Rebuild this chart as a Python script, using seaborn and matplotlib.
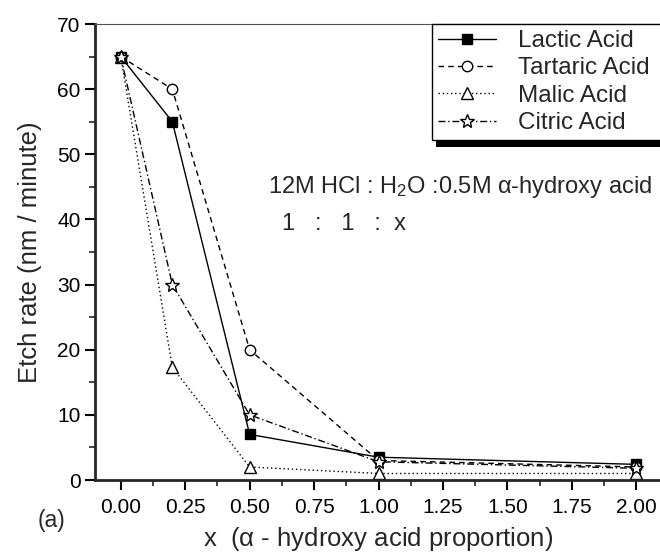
import matplotlib
matplotlib.use('Agg')
import matplotlib.pyplot as plt
import seaborn as sns
import numpy as np
from matplotlib.patches import Rectangle
from matplotlib.ticker import MultipleLocator, FormatStrFormatter

# datos
x_prop = [0.0, 0.2, 0.5, 1.0, 2.0]
lactic = [65, 55, 7, 3.5, 2.4]
tartaric = [65, 60, 20, 3.0, 2.0]
malic = [65, 17.3, 2, 1.0, 1.0]
citric = [65, 30, 10, 2.8, 1.8]
labels = ['Lactic Acid', 'Tartaric Acid', 'Malic Acid', 'Citric Acid']

sns.set_style('ticks')
plt.rcParams['font.family'] = ['Liberation Sans', 'DejaVu Sans']
plt.rcParams['mathtext.fontset'] = 'custom'
plt.rcParams['mathtext.rm'] = 'Liberation Sans'
plt.rcParams['mathtext.it'] = 'Liberation Sans'

fig = plt.figure(figsize=(6.6, 5.57), dpi=100)
ax = fig.add_axes([95/660, 1 - 480/557, 567/660, 456/557])

series = [lactic, tartaric, malic, citric]
styles = [
    dict(marker='s', linestyle='-', markerfacecolor='k', markersize=7),
    dict(marker='o', linestyle=(0, (4, 3)), markerfacecolor='white', markersize=7.5),
    dict(marker='^', linestyle=(0, (1, 2)), markerfacecolor='white', markersize=8),
    dict(marker='*', linestyle=(0, (5, 2, 1, 2)), markerfacecolor='white', markersize=10),
]
handles = []
for vals, st, lab in zip(series, styles, labels):
    sns.lineplot(x=x_prop, y=vals, ax=ax, color='k', linewidth=1.0,
                 markeredgecolor='k', markeredgewidth=1.0, **st)
    handles.append(ax.lines[-1])

ax.set_xlim(-0.1, 2.1)
ax.set_ylim(0, 70)
ax.xaxis.set_major_locator(MultipleLocator(0.25))
ax.xaxis.set_minor_locator(MultipleLocator(0.125))
ax.xaxis.set_major_formatter(FormatStrFormatter('%.2f'))
ax.yaxis.set_major_locator(MultipleLocator(10))
ax.yaxis.set_minor_locator(MultipleLocator(5))
ax.tick_params(which='major', direction='out', length=7, width=1.5, labelsize=15, colors='k')
ax.tick_params(which='minor', direction='out', length=4, width=1.2)
ax.tick_params(axis='x', pad=6)

for s in ['left', 'bottom']:
    ax.spines[s].set_linewidth(2)
ax.spines['top'].set_linewidth(0.8)
ax.spines['top'].set_color('#555555')
ax.spines['right'].set_visible(False)

ax.set_ylabel('Etch rate (nm / minute)', fontsize=18.5, va='center')
ax.yaxis.set_label_coords(-0.115, 0.5)
ax.set_xlabel(r'x  ($\alpha$ - hydroxy acid proportion)', fontsize=18.5, va='center')
ax.xaxis.set_label_coords(0.5, -0.13)

leg = ax.legend(handles, labels, loc='upper left', bbox_to_anchor=(337/567, 1.0, 0.45, 0),
                mode='expand', borderaxespad=0, fontsize=17.5, frameon=True, fancybox=False,
                handlelength=2.4, handletextpad=0.9, labelspacing=0.22, borderpad=0.25)
leg.get_frame().set_edgecolor('k')
leg.get_frame().set_linewidth(1.0)
leg.get_frame().set_alpha(1)

fig.text(268/660, 1 - 187/557, r'12M HCl : H$_2$O :0.5M $\alpha$-hydroxy acid',
         fontsize=17, ha='left', va='center')
fig.text(282/660, 1 - 224/557, '1   :   1   :  x', fontsize=17, ha='left', va='center')
fig.text(52/660, 1 - 520/557, '(a)', fontsize=16.5, ha='center', va='center')

# sombra del recuadro de la leyenda
fig.canvas.draw()
bb = leg.get_window_extent()
fig.patches.append(Rectangle((bb.x0 + 4, bb.y0 - 7), bb.width, 6.5, transform=None,
                             facecolor='k', edgecolor='none', zorder=5))

plt.savefig('out.png', dpi=100)
plt.close()
